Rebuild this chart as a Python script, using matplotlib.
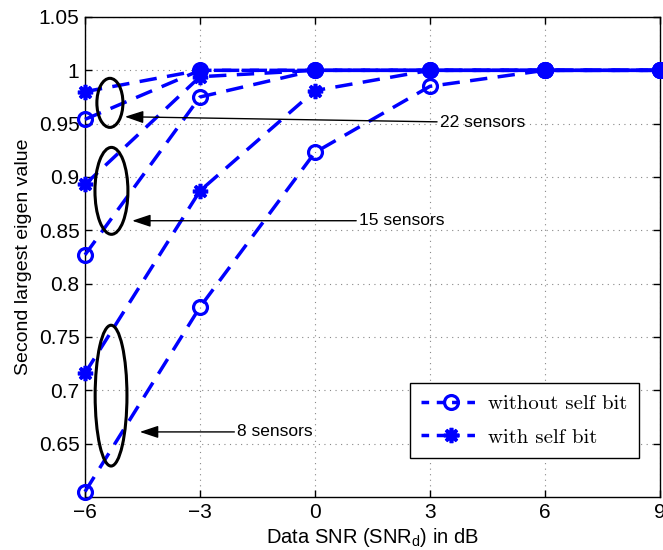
import matplotlib
matplotlib.use("Agg")
import matplotlib.pyplot as plt
from matplotlib.patches import Ellipse
from matplotlib.lines import Line2D

plt.rcParams['font.family'] = ['Liberation Sans', 'DejaVu Sans']

snr = [-6, -3, 0, 3, 6, 9]
without_22 = [0.954, 1.0, 1.0, 1.0, 1.0, 1.0]
with_22 = [0.980, 1.0, 1.0, 1.0, 1.0, 1.0]
without_15 = [0.827, 0.975, 1.0, 1.0, 1.0, 1.0]
with_15 = [0.893, 0.994, 1.0, 1.0, 1.0, 1.0]
without_8 = [0.605, 0.778, 0.923, 0.985, 1.0, 1.0]
with_8 = [0.716, 0.887, 0.981, 1.0, 1.0, 1.0]

xticks = [-6, -3, 0, 3, 6, 9]
xticklabels = ['\u22126', '\u22123', '0', '3', '6', '9']
yticks = [0.65, 0.7, 0.75, 0.8, 0.85, 0.9, 0.95, 1.0, 1.05]
yticklabels = ['0.65', '0.7', '0.75', '0.8', '0.85', '0.9', '0.95', '1', '1.05']

groups = ['22 sensors', '15 sensors', '8 sensors']

blue = '#0000ff'
fig = plt.figure(figsize=(6.63, 5.5), dpi=100)
ax = fig.add_axes([0.1282, 0.0964, 0.867, 0.8727])

asterisk = (8, 2, 0)
line_kw = dict(color=blue, lw=2.5, dashes=(5, 3), clip_on=False, zorder=3)
circ_kw = dict(marker='o', ms=10, mew=2.3, mfc='none', mec=blue)
star_kw = dict(marker=asterisk, ms=11, mew=2.6, mec=blue, mfc=blue)

for w, s in [(without_8, with_8), (without_15, with_15), (without_22, with_22)]:
    ax.plot(snr, w, **line_kw, **circ_kw)
    ax.plot(snr, s, **line_kw, **star_kw)

ax.set_xlim(-6, 9)
ax.set_ylim(0.6, 1.05)
ax.set_xticks(xticks)
ax.set_xticklabels(xticklabels)
ax.set_yticks(yticks)
ax.set_yticklabels(yticklabels)
ax.tick_params(direction='in', top=True, right=True, labelsize=15, length=5, width=1)
ax.tick_params(axis='x', pad=4)
ax.tick_params(axis='y', pad=4)
ax.grid(True, linestyle=(0, (1, 4)), color='#888888', lw=0.8)
for sp in ax.spines.values():
    sp.set_linewidth(1.0)

ax.set_xlabel('Data SNR (SNR$_\\mathregular{d}$) in dB', fontsize=14.5, labelpad=3)
ax.set_ylabel('Second largest eigen value', fontsize=14, labelpad=5)

# ellipses
ell = [(-5.35, 0.9695, 0.68, 0.046), (-5.31, 0.887, 0.86, 0.0815), (-5.32, 0.695, 0.83, 0.132)]
for cx, cy, wd, ht in ell:
    ax.add_patch(Ellipse((cx, cy), wd, ht, fill=False, ec='black', lw=2.2, zorder=4))

# annotations
ann_xy = [(-4.96, 0.9565), (-4.77, 0.859), (-4.57, 0.661)]
ann_txt = [(3.26, 0.951), (1.15, 0.859), (-2.03, 0.661)]
for lab, xy, xt in zip(groups, ann_xy, ann_txt):
    ax.annotate(lab, xy=xy, xytext=xt, fontsize=12.5, va='center', ha='left',
                arrowprops=dict(arrowstyle='-|>,head_length=0.9,head_width=0.3',
                                color='black', lw=1.0, shrinkA=0, shrinkB=0),
                zorder=5)

h1 = Line2D([], [], color=blue, lw=2.5, dashes=(2.2, 2.2), **circ_kw)
h2 = Line2D([], [], color=blue, lw=2.5, dashes=(2.2, 2.2), **star_kw)
leg = ax.legend([h1, h2], ['without self bit', 'with self bit'], loc='lower right',
                bbox_to_anchor=(0.963, 0.081), prop={'family': 'cmr10', 'size': 15},
                fancybox=False, framealpha=1, edgecolor='black', handlelength=2.9,
                borderpad=0.55, labelspacing=0.7, handletextpad=0.3, borderaxespad=0)
leg.get_frame().set_linewidth(1.0)

fig.savefig('out.png', dpi=100)
